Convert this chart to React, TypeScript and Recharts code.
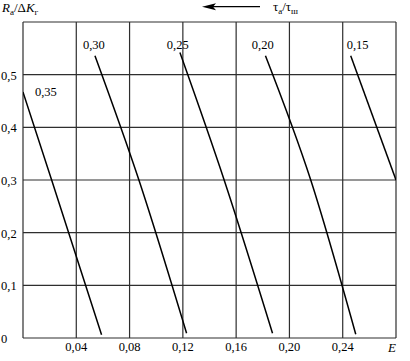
import React from 'react';
import { LineChart, Line, XAxis, YAxis, CartesianGrid, ReferenceDot } from 'recharts';

const xTicks = [0, 0.04, 0.08, 0.12, 0.16, 0.2, 0.24, 0.28];
const yTicks = [0, 0.1, 0.2, 0.3, 0.4, 0.5, 0.6];

const curve035 = [
  { x: 0, y: 0.467 },
  { x: 0.0215, y: 0.3 },
  { x: 0.059, y: 0.006 },
];
const curve030 = [
  { x: 0.054, y: 0.536 },
  { x: 0.087, y: 0.3 },
  { x: 0.1228, y: 0.009 },
];
const curve025 = [
  { x: 0.1178, y: 0.542 },
  { x: 0.151, y: 0.3 },
  { x: 0.1873, y: 0.009 },
];
const curve020 = [
  { x: 0.182, y: 0.536 },
  { x: 0.216, y: 0.3 },
  { x: 0.2498, y: 0.007 },
];
const curve015 = [
  { x: 0.246, y: 0.536 },
  { x: 0.28, y: 0.3 },
];

const curves = [curve035, curve030, curve025, curve020, curve015];
const curveNames = ['0,35', '0,30', '0,25', '0,20', '0,15'];
const nameAnchors = [
  { x: 0.009, y: 0.467 },
  { x: 0.045, y: 0.558 },
  { x: 0.108, y: 0.558 },
  { x: 0.1718, y: 0.558 },
  { x: 0.243, y: 0.558 },
];

const FONT = "'Liberation Serif', 'Times New Roman', serif";
const txt = { fontFamily: FONT };

const fmt = (v: number, d: number) => (v === 0 ? '0' : v.toFixed(d).replace('.', ','));

const XTick = (props: any) => {
  const { x, y, payload } = props;
  const v = payload.value;
  if (v === 0 || Math.abs(v - 0.28) < 1e-9) return null;
  return (
    <text x={x} y={y + 13} textAnchor="middle" style={txt} fontSize={12.5} fill="#000">
      {fmt(v, 2)}
    </text>
  );
};

const YTick = (props: any) => {
  const { x, y, payload } = props;
  const v = payload.value;
  if (Math.abs(v - 0.6) < 1e-9) return null;
  return (
    <text x={x - 22} y={y + 5} textAnchor="start" style={txt} fontSize={12.5} fill="#000">
      {fmt(v, 1)}
    </text>
  );
};

export default function App() {
  return (
    <div style={{ position: 'absolute', left: 0, top: 0, width: 410, height: 361, background: '#fff', fontFamily: FONT }}>
      <LineChart width={410} height={361} margin={{ top: 22, right: 14, bottom: 0, left: 0 }} style={{ fontFamily: FONT }}>
        <CartesianGrid stroke="#2e2e2e" strokeWidth={1.2} horizontalValues={yTicks} verticalValues={xTicks} />
        <XAxis
          type="number"
          dataKey="x"
          domain={[0, 0.28]}
          ticks={xTicks}
          height={23}
          axisLine={false}
          tickLine={false}
          tickSize={0}
          tickMargin={0}
          tick={<XTick />}
          allowDataOverflow
        />
        <YAxis
          type="number"
          dataKey="y"
          domain={[0, 0.6]}
          ticks={yTicks}
          width={23}
          axisLine={false}
          tickLine={false}
          tickSize={0}
          tickMargin={0}
          tick={<YTick />}
          allowDataOverflow
        />
        {curves.map((c, i) => (
          <Line
            key={curveNames[i]}
            data={c}
            dataKey="y"
            type="monotone"
            stroke="#000"
            strokeWidth={1.5}
            dot={false}
            activeDot={false}
            isAnimationActive={false}
          />
        ))}
        {nameAnchors.map((a, i) => (
          <ReferenceDot
            key={'lbl' + i}
            x={a.x}
            y={a.y}
            r={0}
            fill="none"
            stroke="none"
            label={{ value: curveNames[i], position: 'right', offset: 0, style: txt, fontSize: 12.5, fill: '#000' }}
          />
        ))}
      </LineChart>
      <svg width={410} height={361} style={{ position: 'absolute', left: 0, top: 0, pointerEvents: 'none' }}>
        <text x={2} y={12} style={txt} fontSize={13} fill="#000">
          <tspan fontStyle="italic">R</tspan>
          <tspan fontSize={9} dy={3}>a</tspan>
          <tspan dy={-3}>/Δ</tspan>
          <tspan fontStyle="italic">K</tspan>
          <tspan fontSize={9} dy={3}>г</tspan>
        </text>
        <line x1={212} y1={6.7} x2={260} y2={6.7} stroke="#000" strokeWidth={1.3} />
        <polygon points="202,6.7 216,3.2 213,6.7 216,10.2" fill="#000" />
        <text x={273} y={11} style={txt} fontSize={13} fill="#000">
          <tspan>τ</tspan>
          <tspan fontSize={9} dy={3}>a</tspan>
          <tspan dy={-3}>/τ</tspan>
          <tspan fontSize={9} dy={3}>ш</tspan>
        </text>
        <text x={388} y={352} style={txt} fontSize={13} fontStyle="italic" fill="#000">E</text>
      </svg>
    </div>
  );
}
